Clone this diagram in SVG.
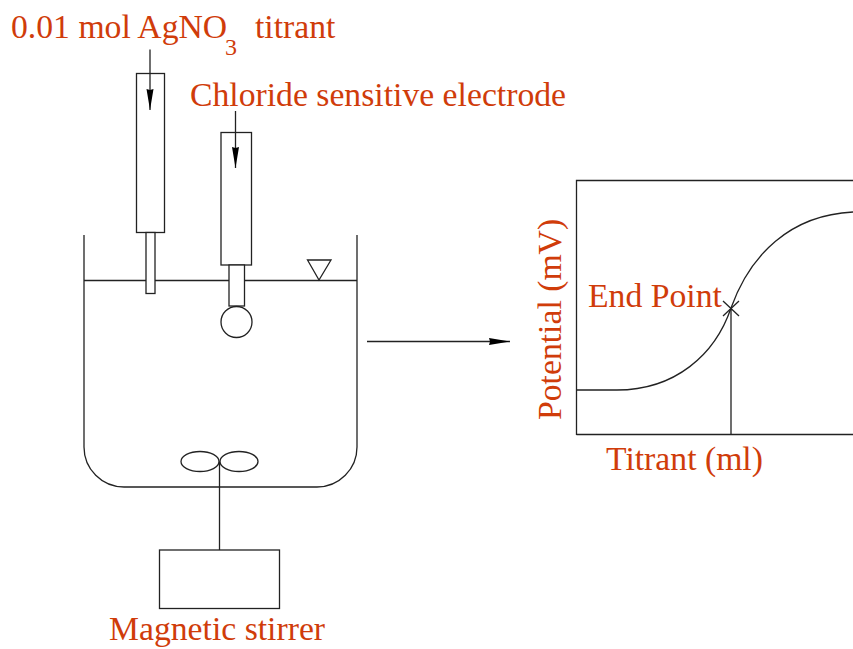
<svg xmlns="http://www.w3.org/2000/svg" width="853" height="649" viewBox="0 0 853 649">
<style>
.l{font-family:"Liberation Serif","Times New Roman",serif;fill:#d03c0a;font-size:33.700px}
.n{font-size:24px}
.s{fill:none;stroke:#222;stroke-width:1.300}
.w{fill:#fff;stroke:#222;stroke-width:1.300}
</style>
<defs>
<marker id="a" markerUnits="userSpaceOnUse" markerWidth="24" markerHeight="12" refX="21" refY="4" orient="auto"><path d="M0 0.500L21 4L0 7.500L1 4Z" fill="#000"/></marker>
</defs>
<rect width="853" height="649" fill="#fff"/>
<g id="beaker">
<path class="s" d="M84 235V447A40 40 0 0 0 124 487H317A40 40 0 0 0 357 447V235"/>
<path class="s" d="M84 280.500H357"/>
<path class="s" d="M307.500 260H331L319 280Z"/>
</g>
<g id="titrant">
<rect class="w" x="136.500" y="73.500" width="28" height="159"/>
<rect class="w" x="146" y="232.500" width="9" height="61"/>
<text class="l" x="11" y="38">0.01 mol AgNO</text>
<text class="l n" x="225" y="55">3</text>
<text class="l" x="255" y="38">titrant</text>
</g>
<g id="electrode">
<rect class="w" x="221" y="132.500" width="30.500" height="132.500"/>
<rect class="w" x="229" y="265" width="15.500" height="41"/>
<circle class="w" cx="236.500" cy="322" r="15.500"/>
<text class="l" x="190" y="106">Chloride sensitive electrode</text>
</g>
<g id="stirrer">
<ellipse class="s" cx="200" cy="461.500" rx="19" ry="10"/>
<ellipse class="s" cx="239" cy="461.500" rx="19" ry="10"/>
<rect class="w" x="159.500" y="550" width="120" height="58.500"/>
<text class="l" x="109" y="640">Magnetic stirrer</text>
</g>
<g id="plot">
<path class="s" d="M576.500 435V180.500H853M576.500 434.500H853"/>
<path class="s" d="M576.500 390H617C675 390 715 355 731 308C750 255 790 215 853 212"/>
<path class="s" d="M731 308V434M723 301L739 316M739 301L723 316"/>
<text class="l" x="588" y="307">End Point</text>
<text class="l" x="606" y="470">Titrant (ml)</text>
<text class="l" transform="translate(561 420) rotate(-90)">Potential (mV)</text>
</g>
<g id="connectors">
<path class="s" d="M150 49.500V110" marker-end="url(#a)"/>
<path class="s" d="M235.500 111V168" marker-end="url(#a)"/>
<path class="s" d="M367 341.500H510" marker-end="url(#a)"/>
<path class="s" d="M219.500 461.500V550"/>
</g>
</svg>
